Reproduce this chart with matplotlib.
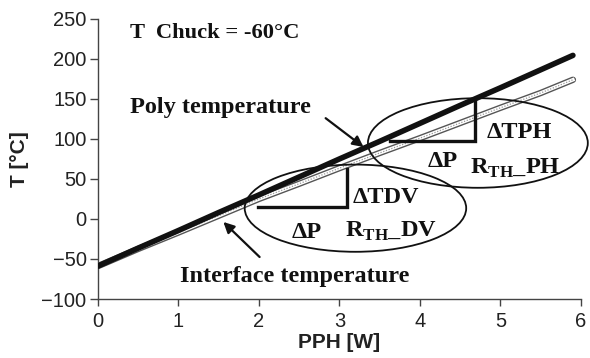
import matplotlib
matplotlib.use("Agg")
import matplotlib.pyplot as plt
from matplotlib.patches import Ellipse, FancyArrowPatch

# Measured temperatures vs heater power
pph = [0, 0.5, 1.0, 1.5, 2.0, 2.5, 3.0, 3.5, 4.0, 4.5, 5.0, 5.5, 5.9]
t_poly = [-59, -36.5, -14.5, 8, 30, 52.5, 75, 97, 119.5, 142, 164, 186.5, 204.5]
t_interface = [-59, -37.5, -17, 4, 25, 44, 63.5, 82.5, 101, 120, 139, 157.5, 174]

x_ticks = [0, 1, 2, 3, 4, 5, 6]
y_ticks = [-100, -50, 0, 50, 100, 150, 200, 250]

plt.rcParams['font.family'] = ['Liberation Sans', 'DejaVu Sans']
plt.rcParams['mathtext.fontset'] = 'custom'
plt.rcParams['mathtext.bf'] = 'Liberation Serif:bold'
plt.rcParams['mathtext.rm'] = 'Liberation Serif:bold'

SERIF = ['Liberation Serif', 'DejaVu Serif']
ANN = dict(family=SERIF, weight='bold', fontsize=17.5, color='#111111')

fig = plt.figure(figsize=(5.9, 3.58), dpi=100)
ax = fig.add_axes([0.1656, 0.1648, 0.8191, 0.7822])

# interface curve: hollow gray "tube" of small circles
ax.plot(pph, t_interface, color='#555555', lw=4.6, solid_capstyle='round', zorder=2)
ax.plot(pph, t_interface, color='white', lw=2.6, zorder=2.1)
ax.plot(pph, t_interface, color='#999999', lw=0.9, ls=(0, (1, 1.3)), zorder=2.2)

# poly curve: thick black band
ax.plot(pph, t_poly, color='#111111', lw=4.0, solid_capstyle='round', zorder=3)

ax.set_xlim(0, 6)
ax.set_ylim(-100, 250)
ax.set_xticks(x_ticks)
ax.set_yticks(y_ticks)

for s in ['top', 'right']:
    ax.spines[s].set_visible(False)
for s in ['left', 'bottom']:
    ax.spines[s].set_color('#444444')
    ax.spines[s].set_linewidth(1.0)

ax.tick_params(axis='y', direction='out', length=6, width=1.0, color='#444444',
               labelsize=14.5, labelcolor='#222222', pad=2)
ax.tick_params(axis='x', direction='out', length=5, width=1.0, color='#444444',
               labelsize=14.5, labelcolor='#222222', pad=4)

ax.set_xlabel('PPH [W]', fontsize=15, fontweight='bold', color='#222222', labelpad=2)
ax.set_ylabel('T [°C]', fontsize=15, fontweight='bold', color='#222222', labelpad=9)

# thermal resistance ellipses
for cx, cy, w, h in [(3.2, 13.5, 2.75, 109), (4.72, 95, 2.73, 112)]:
    ax.add_patch(Ellipse((cx, cy), w, h, fill=False, edgecolor='#111111',
                         lw=1.3, clip_on=False, zorder=4))

# slope triangles
ax.plot([1.99, 3.09, 3.09], [15, 15, 63], color='#111111', lw=2.4, zorder=4,
        solid_joinstyle='miter')
ax.plot([3.63, 4.68, 4.68], [97, 97, 150], color='#111111', lw=2.4, zorder=4,
        solid_joinstyle='miter')

# annotations
ax.text(0.40, 226.6, 'T  Chuck = -60°C', ha='left', va='baseline',
        **{**ANN, 'fontsize': 16.2})
ax.text(0.40, 132, 'Poly temperature', ha='left', va='baseline', **ANN)
ax.text(1.02, -78.4, 'Interface temperature', ha='left', va='baseline', **ANN)

ax.text(3.17, 20.4, 'ΔTDV', ha='left', va='baseline', **ANN)
ax.text(2.41, -23.8, 'ΔP', ha='left', va='baseline', **ANN)
ax.text(3.07, -22, r'R$_{\mathbf{TH}}$_DV', ha='left', va='baseline', **ANN)

ax.text(4.83, 100.9, 'ΔTPH', ha='left', va='baseline', **ANN)
ax.text(4.10, 65.4, 'ΔP', ha='left', va='baseline', **ANN)
ax.text(4.62, 57, r'R$_{\mathbf{TH}}$_PH', ha='left', va='baseline', **ANN)

for (x0, y0), (x1, y1) in [((2.83, 126), (3.3, 90)), ((2.01, -47.5), (1.56, -3.7))]:
    ax.add_patch(FancyArrowPatch((x0, y0), (x1, y1), arrowstyle='-|>',
                                 mutation_scale=16, lw=1.6, color='#111111',
                                 shrinkA=0, shrinkB=0, zorder=5))

fig.savefig('out.png', dpi=100, facecolor='white')
